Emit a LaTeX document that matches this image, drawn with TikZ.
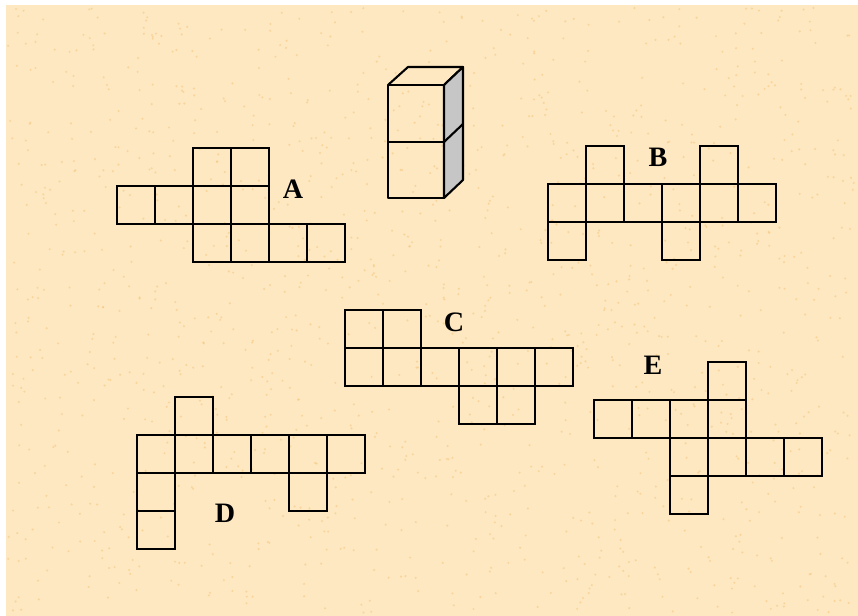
\documentclass[tikz,border=0pt]{standalone}
\usepackage{fontspec}
\setmainfont{Liberation Serif}
\definecolor{Sand}{RGB}{253,232,194}
\definecolor{SandDot}{RGB}{246,196,120}
\definecolor{SideGray}{RGB}{198,198,198}
\tikzset{
  cell/.style={draw=black,line width=1.8pt},
  face/.style={draw=black,line width=1.8pt,line join=round},
  netlabel/.style={font=\bfseries\fontsize{24}{24}\selectfont,text=black,inner sep=0pt}
}
% one net: top-left corner, then col/row of each square
\newcommand\drawnet[2]{%
  \begin{scope}[shift={#1}]
    \foreach \c/\r in {#2}
      \draw[cell] (38*\c,38*\r) rectangle ++(38,38);
  \end{scope}}

\begin{document}
\begin{tikzpicture}[x=0.03cm,y=-0.03cm]
  \useasboundingbox (0,0) rectangle (858,616);
  \fill[Sand] (6,5) rectangle (858,616);
  % sandy speckles
  \pgfmathsetseed{11}
  \foreach \i in {1,...,1400}{
    \pgfmathsetmacro\px{8+848*rnd}
    \pgfmathsetmacro\py{7+606*rnd}
    \fill[SandDot,opacity=.5] (\px,\py) circle (1.2);
  }

  % two stacked cubes
  \fill[Sand] (388,85) -- (408,67) -- (463,67) -- (444,85) -- cycle;
  \draw[face] (388,85) -- (408,67) -- (463,67) -- (444,85);
  \draw[face,fill=SideGray] (444,85) -- (463,67) -- (463,180) -- (444,198) -- cycle;
  \draw[face] (444,142) -- (463,124);
  \draw[face] (388,85) rectangle (444,198);
  \draw[face] (388,142) -- (444,142);

  % nets
  \drawnet{(117,148)}{2/0,3/0,0/1,1/1,2/1,3/1,2/2,3/2,4/2,5/2}
  \drawnet{(548,146)}{1/0,4/0,0/1,1/1,2/1,3/1,4/1,5/1,0/2,3/2}
  \drawnet{(345,310)}{0/0,1/0,0/1,1/1,2/1,3/1,4/1,5/1,3/2,4/2}
  \drawnet{(137,397)}{1/0,0/1,1/1,2/1,3/1,4/1,5/1,0/2,4/2,0/3}
  \drawnet{(594,362)}{3/0,0/1,1/1,2/1,3/1,2/2,3/2,4/2,5/2,2/3}

  \node[netlabel] (labA) at (293,189) {A};
  \node[netlabel] (labB) at (658,157) {B};
  \node[netlabel] (labC) at (454,322) {C};
  \node[netlabel] (labD) at (225,513) {D};
  \node[netlabel] (labE) at (653,365) {E};
\end{tikzpicture}
\end{document}
